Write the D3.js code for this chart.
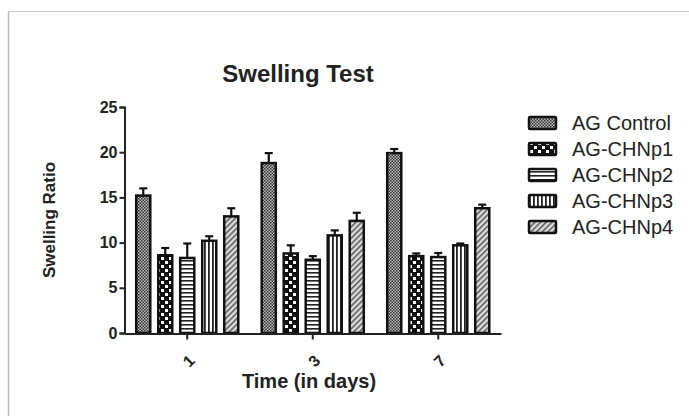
<!DOCTYPE html>
<html>
<head>
<meta charset="utf-8">
<script src="https://cdn.jsdelivr.net/npm/d3@7"></script>
<style>
body{margin:0;background:#fff;}
text{font-family:Arial,"Liberation Sans",sans-serif;fill:#222;}
</style>
</head>
<body>
<div id="chart"></div>
<script>
// data
var days=["1","3","7"];
var series=["AG Control","AG-CHNp1","AG-CHNp2","AG-CHNp3","AG-CHNp4"];
var means=[
	[15.2,18.8,19.9],
	[8.6,8.8,8.5],
	[8.3,8.1,8.4],
	[10.2,10.8,9.7],
	[12.9,12.4,13.8]
];
var errs=[
	[0.8,1.1,0.45],
	[0.8,0.9,0.3],
	[1.6,0.4,0.45],
	[0.5,0.55,0.2],
	[0.9,0.9,0.4]
];
var yTicks=[0,5,10,15,20,25];

var width=689,height=416;
var svg=d3.select('#chart').append('svg')
	.attr('width',width).attr('height',height);

// patterns for the bars
var defs=svg.append('defs');
var p0=defs.append('pattern').attr('id','pat0').attr('patternUnits','userSpaceOnUse').attr('width',3).attr('height',3);
p0.append('rect').attr('width',3).attr('height',3).attr('fill','#bbb');
p0.append('rect').attr('width',1.5).attr('height',1.5).attr('fill','#333');
p0.append('rect').attr('x',1.5).attr('y',1.5).attr('width',1.5).attr('height',1.5).attr('fill','#333');

var p1=defs.append('pattern').attr('id','pat1').attr('patternUnits','userSpaceOnUse').attr('width',8).attr('height',8);
p1.append('rect').attr('width',8).attr('height',8).attr('fill','#111');
p1.append('rect').attr('x',1).attr('y',1).attr('width',3).attr('height',3).attr('fill','#fff');
p1.append('rect').attr('x',5).attr('y',5).attr('width',3).attr('height',3).attr('fill','#fff');

var p2=defs.append('pattern').attr('id','pat2').attr('patternUnits','userSpaceOnUse').attr('width',4).attr('height',4);
p2.append('rect').attr('width',4).attr('height',4).attr('fill','#fff');
p2.append('rect').attr('width',4).attr('height',1.6).attr('fill','#222');

var p3=defs.append('pattern').attr('id','pat3').attr('patternUnits','userSpaceOnUse').attr('width',4).attr('height',4);
p3.append('rect').attr('width',4).attr('height',4).attr('fill','#fff');
p3.append('rect').attr('width',1.8).attr('height',4).attr('fill','#222');

var p4=defs.append('pattern').attr('id','pat4').attr('patternUnits','userSpaceOnUse').attr('width',4).attr('height',4)
	.attr('patternTransform','rotate(45)');
p4.append('rect').attr('width',4).attr('height',4).attr('fill','#ddd');
p4.append('rect').attr('width',1.5).attr('height',4).attr('fill','#555');

// thin page frame
svg.append('line').attr('x1',8).attr('x2',width).attr('y1',11.5).attr('y2',11.5).attr('stroke','#ccc');
svg.append('line').attr('x1',8.5).attr('x2',8.5).attr('y1',11).attr('y2',height).attr('stroke','#bbb').attr('stroke-width',1.5);

/***** scales *****/
var y=d3.scaleLinear().domain([0,25]).range([333,107]);
var x0=d3.scaleBand().domain(days).range([124.5,501]);
var x1=d3.scaleBand().domain(series).range([-55,55]).paddingInner(0.27).paddingOuter(0.135);

var g=svg.append('g');

series.forEach(function(s,i){
	var grp=g.append('g').attr('class','series');
	var rows=days.map(function(d,j){return {day:d,v:means[i][j],e:errs[i][j]};});
	// error whiskers (upper only)
	grp.selectAll('.err').data(rows).enter().append('line')
		.attr('x1',function(d){return x0(d.day)+x0.bandwidth()/2+x1(s)+x1.bandwidth()/2})
		.attr('x2',function(d){return x0(d.day)+x0.bandwidth()/2+x1(s)+x1.bandwidth()/2})
		.attr('y1',function(d){return y(d.v)})
		.attr('y2',function(d){return y(d.v+d.e)})
		.attr('stroke','#111').attr('stroke-width',2.2);
	grp.selectAll('.cap').data(rows).enter().append('line')
		.attr('x1',function(d){return x0(d.day)+x0.bandwidth()/2+x1(s)+x1.bandwidth()/2-4})
		.attr('x2',function(d){return x0(d.day)+x0.bandwidth()/2+x1(s)+x1.bandwidth()/2+4})
		.attr('y1',function(d){return y(d.v+d.e)})
		.attr('y2',function(d){return y(d.v+d.e)})
		.attr('stroke','#111').attr('stroke-width',2.2);
	grp.selectAll('.bar').data(rows).enter().append('rect')
		.attr('x',function(d){return x0(d.day)+x0.bandwidth()/2+x1(s)+1})
		.attr('y',function(d){return y(d.v)})
		.attr('width',x1.bandwidth()-2)
		.attr('height',function(d){return y(0)-y(d.v)})
		.attr('fill','url(#pat'+i+')')
		.attr('stroke','#111').attr('stroke-width',2.5);
});

// axes
var yAxis=d3.axisLeft(y).tickValues(yTicks).tickSize(5).tickPadding(2);
var ya=svg.append('g').attr('transform','translate(124.5,0)').call(yAxis);
ya.select('.domain').attr('stroke','#222').attr('stroke-width',2);
ya.selectAll('.tick line').attr('stroke','#222').attr('stroke-width',2);
ya.selectAll('.tick text').style('font-size','16px').style('font-weight','bold').attr('fill','#222');

var xAxis=d3.axisBottom(x0).tickSize(6).tickSizeOuter(0);
var xa=svg.append('g').attr('transform','translate(0,333.5)').call(xAxis);
xa.select('.domain').attr('stroke','#222').attr('stroke-width',2);
xa.selectAll('.tick line').attr('stroke','#222').attr('stroke-width',2);
xa.selectAll('.tick text')
	.style('font-size','16px').style('font-weight','bold').attr('fill','#222')
	.attr('text-anchor','middle').attr('dy',0)
	.attr('transform','translate(-1,25) rotate(-45)');

// titles
svg.append('text').attr('x',298).attr('y',82).attr('text-anchor','middle')
	.style('font-size','24px').style('font-weight','bold').text('Swelling Test');
svg.append('text').attr('x',309).attr('y',388).attr('text-anchor','middle')
	.style('font-size','20px').style('font-weight','bold').text('Time (in days)');
svg.append('text').attr('transform','translate(55,220) rotate(-90)').attr('text-anchor','middle')
	.style('font-size','17px').style('font-weight','bold').text('Swelling Ratio');

// legend
var leg=svg.append('g').attr('transform','translate(529,123)');
var li=leg.selectAll('.lg').data(series).enter().append('g')
	.attr('transform',function(d,i){return 'translate(0,'+(i*26)+')'});
li.append('rect').attr('x',0).attr('y',-6).attr('width',27).attr('height',12)
	.attr('fill',function(d,i){return 'url(#pat'+i+')'})
	.attr('stroke','#111').attr('stroke-width',2.5).attr('rx',1);
li.append('text').attr('x',43).attr('y',0).attr('dy','0.35em')
	.style('font-size','20px').text(function(d){return d});
</script>
</body>
</html>
